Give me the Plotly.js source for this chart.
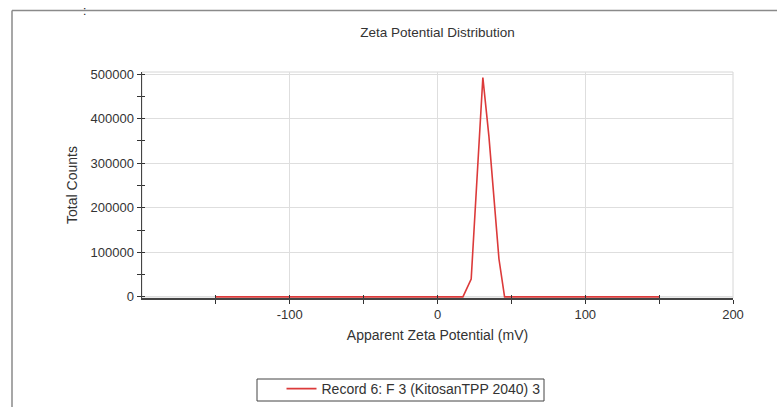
<!DOCTYPE html>
<html><head><meta charset="utf-8">
<script src="https://cdn.plot.ly/plotly-3.0.1.min.js"></script>
<style>html,body{margin:0;padding:0;background:#fff;} #chart{width:777px;height:407px;}</style>
</head><body><div id="chart"></div>
<script>
// Data
const zeta = [-150, -100, -50, 0, 10, 17.2, 22.8, 30.7, 34.8, 41.6, 45.4, 50, 100, 150];
const counts = [0, 0, 0, 0, 0, 0, 40000, 492000, 360000, 85000, 0, 0, 0, 0];
const seriesName = 'Record 6: F 3 (KitosanTPP 2040) 3';
const chartTitle = 'Zeta Potential Distribution';
const xTitle = 'Apparent Zeta Potential (mV)';
const yTitle = 'Total Counts';
const xTickVals = [-100, 0, 100, 200];
const xTickText = ['-100', '0', '100', '200'];
const xMinorVals = [-150, -50, 50, 150];
const yTickVals = [0, 100000, 200000, 300000, 400000, 500000];
const yTickText = ['0', '100000', '200000', '300000', '400000', '500000'];

const FONT = 'Liberation Sans, Arial, sans-serif';
const TXT = '#333333';

const traces = [
  {x: zeta, y: counts, type: 'scatter', mode: 'lines', name: seriesName,
   line: {color: '#dc3a3a', width: 1.6}, cliponaxis: false, hoverinfo: 'x+y'},
  {x: zeta, y: counts, xaxis: 'x2', yaxis: 'y2', type: 'scatter', mode: 'lines',
   showlegend: false, opacity: 0, hoverinfo: 'skip', line: {width: 0}}
];

const xRange = [-200, 200];
const yRange = [-2500, 504500];

const layout = {
  width: 777, height: 407,
  margin: {l: 142, r: 44, t: 72, b: 109, autoexpand: false},
  paper_bgcolor: '#ffffff', plot_bgcolor: '#ffffff',
  font: {family: FONT, size: 13, color: TXT},
  title: {text: chartTitle, font: {family: FONT, size: 13.5, color: TXT},
          x: 0.5, xref: 'paper', xanchor: 'center', y: 1 - 32/407, yref: 'container', yanchor: 'middle'},
  showlegend: true,
  legend: {orientation: 'h', x: 0.4594, xanchor: 'center', xref: 'paper',
           y: 1 - 373/407, yref: 'container', yanchor: 'top',
           borderwidth: 0, bgcolor: 'rgba(0,0,0,0)',
           font: {family: FONT, size: 14, color: TXT}},
  xaxis: {range: xRange, tickmode: 'array', tickvals: xTickVals, ticktext: xTickText, ticks: 'outside', ticklen: 4,
          tickcolor: '#333', showline: true, linecolor: '#444', linewidth: 1.5,
          showgrid: true, gridcolor: '#dedede', gridwidth: 1, zeroline: false, layer: 'below traces',
          tickfont: {family: FONT, size: 13, color: TXT},
          minor: {tickmode: 'array', tickvals: xMinorVals, ticks: 'outside', ticklen: 4, tickcolor: '#333', showgrid: false},
          title: {text: xTitle, font: {family: FONT, size: 14, color: TXT}, standoff: 9},
          automargin: false, fixedrange: true},
  yaxis: {range: yRange, tickmode: 'array', tickvals: yTickVals, ticktext: yTickText, ticks: 'outside', ticklen: 4,
          tickcolor: '#333', showline: true, linecolor: '#444', linewidth: 1.5,
          showgrid: true, gridcolor: '#dedede', gridwidth: 1, zeroline: false, layer: 'below traces',
          tickfont: {family: FONT, size: 13, color: TXT},
          minor: {dtick: 50000, tick0: 0, ticks: 'outside', ticklen: 4, tickcolor: '#333', showgrid: false},
          title: {text: yTitle, font: {family: FONT, size: 14, color: TXT}, standoff: 9},
          automargin: false, fixedrange: true},
  xaxis2: {range: xRange, overlaying: 'x', anchor: 'y2', side: 'bottom', tickmode: 'array',
           tickvals: xTickVals.concat(xMinorVals), ticks: 'inside', ticklen: 3, tickcolor: '#333',
           showticklabels: false, showgrid: false, showline: false, zeroline: false, fixedrange: true},
  yaxis2: {range: yRange, overlaying: 'y', anchor: 'x2', side: 'left', dtick: 50000, tick0: 0,
           ticks: 'inside', ticklen: 3, tickcolor: '#333',
           showticklabels: false, showgrid: false, showline: false, zeroline: false, fixedrange: true},
  shapes: [
    {type: 'rect', xref: 'paper', yref: 'paper', x0: 0, x1: 1, y0: 0, y1: 1,
     line: {color: '#d6d6d6', width: 1}, layer: 'below'},
    {type: 'line', xref: 'paper', yref: 'paper', x0: (12-142)/591, x1: 1.2, y0: (298-10.5)/226, y1: (298-10.5)/226,
     line: {color: '#8a8a8a', width: 1.5}},
    {type: 'line', xref: 'paper', yref: 'paper', x0: (12-142)/591, x1: (12-142)/591, y0: (298-10.5)/226, y1: -0.6,
     line: {color: '#8a8a8a', width: 1.5}},
    // legend frame
    {type: 'rect', xref: 'paper', yref: 'paper', x0: (257-142)/591, x1: (544-142)/591,
     y0: (298-401)/226, y1: (298-379)/226, line: {color: '#444', width: 1}}
  ],
  annotations: [
    {text: ':', xref: 'paper', yref: 'paper', x: (84-142)/591, y: (298-11)/226, showarrow: false,
     font: {family: FONT, size: 12, color: '#222'}, xanchor: 'center', yanchor: 'middle'}
  ]
};

Plotly.newPlot('chart', traces, layout, {displayModeBar: false, staticPlot: true});
</script>
</body></html>
